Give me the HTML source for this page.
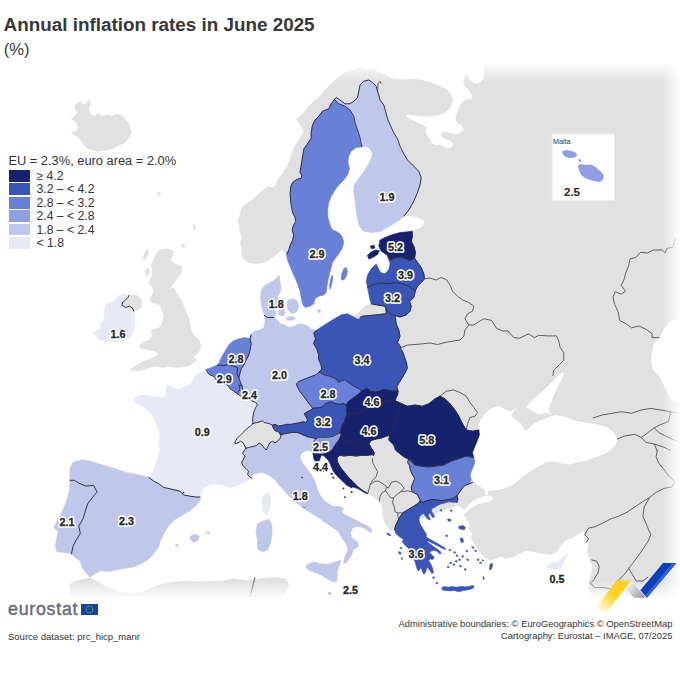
<!DOCTYPE html>
<html><head><meta charset="utf-8"><title>Annual inflation rates in June 2025</title>
<style>
html,body{margin:0;padding:0;background:#fff;}
body{width:680px;height:680px;position:relative;overflow:hidden;font-family:"Liberation Sans",sans-serif;color:#333;}
.t{position:absolute;white-space:nowrap;}
.sw{position:absolute;left:8.8px;width:21.3px;height:11.9px;}
</style></head><body>
<svg width="680" height="680" viewBox="0 0 680 680" style="position:absolute;left:0;top:0">
<defs><linearGradient id="ft" x1="0" y1="0" x2="0" y2="1"><stop offset="0" stop-color="#fff" stop-opacity="1"/><stop offset="1" stop-color="#fff" stop-opacity="0"/></linearGradient><linearGradient id="fb" x1="0" y1="1" x2="0" y2="0"><stop offset="0" stop-color="#fff" stop-opacity="1"/><stop offset="1" stop-color="#fff" stop-opacity="0"/></linearGradient><linearGradient id="fr" x1="1" y1="0" x2="0" y2="0"><stop offset="0" stop-color="#fff" stop-opacity="1"/><stop offset="1" stop-color="#fff" stop-opacity="0"/></linearGradient><clipPath id="mapclip"><rect x="0" y="63" width="680" height="537"/></clipPath></defs>
<g clip-path="url(#mapclip)">
<g fill="#e1e1e1" stroke="#e1e1e1" stroke-width="0.5" stroke-linejoin="round">
<path d="M392.4,78.9 L394.9,78.9 L402.9,79.8 L414.3,78.9 L424,80.6 L432.1,83 L440.2,86.2 L446.6,89.5 L450.7,94.3 L452.6,99.5 L451.8,104.4 L449.4,108.4 L445.3,112.4 L438.5,114.9 L430.5,116.2 L422.4,116.2 L414.3,115.2 L407.8,114.2 L405.4,115.2 L409.4,118.9 L415.9,122.2 L422.4,124.9 L426.4,127.3 L425.6,131.1 L426.4,135.1 L429.6,139.1 L432.1,143.2 L436.1,145.6 L440.2,144.8 L443.4,146.7 L447.4,148.4 L451.5,147.6 L453.4,144 L451,140.8 L446.6,139.1 L442.6,137.5 L441,134.3 L442.6,131.9 L446.6,132.3 L452.3,134.3 L458,134.3 L462,131.9 L463.6,128.6 L461.2,125.4 L458,123 L455.5,119.7 L456.3,114.9 L458,110 L460.4,105.2 L462.8,101.9 L466.1,99.8 L470.1,99 L472.8,98 L471.7,94.6 L470.1,91.4 L467.7,89 L465.6,86.6 L463.6,82.5 L464.4,77.7 L466.1,73.6 L467.7,75.2 L469.3,79.3 L472.5,82.5 L476.6,84.1 L480.6,82.8 L483.5,79.3 L484.7,74.4 L483.9,69.6 L484.7,61.5 L485,62 L684,62 L684,600 L591,600 L591.3,598.1 L591.3,594.2 L588.6,590.2 L589.4,582.3 L591.3,574.3 L592.6,566.4 L589.9,559.8 L587.3,551.9 L588.6,543.9 L584.1,537.3 L584.7,530.7 L579.4,533.3 L572.8,537.3 L566.1,539.9 L560.8,545.2 L556.9,551.9 L550.3,554.5 L542.3,553.2 L534.4,551.9 L526.5,550.5 L519.8,553.2 L513.2,557.1 L505.3,558.5 L500,555.8 L501.2,556.2 L495,558.8 L490,560 L485,557.5 L481.2,553.8 L477.5,548.8 L475,543.8 L471.2,538.8 L472.5,533.8 L468.8,528.8 L470,523.8 L466.2,518.8 L462.5,513.8 L464.5,508.8 L461.2,507.5 L457.5,505 L393.75,528.75 L391.8,531.5 L389.1,528.8 L386.5,525.3 L383.8,520 L382.9,514.7 L382.6,509.4 L382.1,504.1 L379.4,501.5 L376.8,499.7 L372.4,496.2 L367.9,493.2 L367.9,493.8 L365.4,492.1 L361.8,489.9 L358.8,487.6 L356.6,485.4 L353.7,482.5 L350.7,479.6 L347.8,476.6 L344.9,472.9 L341.9,469.3 L339.4,465.6 L337.5,461.9 L337.1,458.5 L337.5,457.5 L339.7,455.3 L344.1,456 L350,455.3 L355.9,456 L361.8,455.3 L367.6,455.3 L372.1,454.6 L373.5,455.3 L373.5,455.3 L374.3,453.1 L372.8,450.1 L370.6,447.2 L369.1,443.5 L371.5,440.2 L380,400 L370,340 L352.5,317 L357.5,313.8 L361.2,310 L365,306.2 L371.2,303.8 L385,290 L395,260 L400,240 L412,231.25 L418,229 L423,226 L424.5,221 L420,218 L412,216 L403.75,216.25 L395,200 L375,150 L365,100 L392.5,79Z"/>
<path d="M287.5,253.5 L284.4,252.5 L281.3,249.4 L279.3,251.5 L276.2,254.6 L272.1,257.7 L267.9,260.7 L261.8,262.8 L255.6,263.8 L249.4,262.8 L244.3,259.7 L241.2,254.6 L242.2,248.4 L240.1,243.2 L242.2,238.1 L240.1,232.9 L239.1,226.8 L238.1,220.6 L240.1,214.4 L241.2,209.3 L244.3,205.1 L249.4,202.1 L254.6,197.9 L259.7,192.8 L263.8,189.7 L267.9,186.6 L272.1,187.6 L276.2,185.6 L277.2,180.4 L280.3,176.3 L283.4,172.2 L286.5,168.1 L288.5,162.9 L290.6,157.8 L292.6,151.6 L294.7,146.5 L297.8,141.3 L300.9,136.2 L304,131 L300,125 L296.2,118.8 L302.5,113.8 L307.5,107.5 L312.5,102.5 L318.8,97.5 L323.8,91.2 L330,85 L335,80 L341.2,75 L347.5,71.2 L353.8,70 L360,67.5 L367.5,70 L372.5,68.8 L380,72.5 L387.5,76.2 L392.5,78.8 L385,95 L370,105 L345,112 L325,140 L312,200 L300,245Z"/>
<path d="M70,584 L77.5,580.6 L90.7,578 L95,580.6 L106,586.3 L119.4,592 L134.8,593.8 L145.9,590.7 L154.7,586.3 L167.9,582.8 L185.6,581 L203.2,581.9 L220.9,581 L234,578.8 L247.3,580.6 L260.6,578.8 L273.8,577.5 L284.8,578.8 L289.2,584 L287,590.7 L282.6,596.5 L282,602 L70,602Z"/>
<path d="M75,105 L80,101.2 L83.8,105 L86.2,103.8 L88.8,100 L90.5,102.5 L88.8,108.8 L90,113.8 L95,116.2 L98.8,112.5 L101.2,116.2 L107.5,115 L112.5,116.2 L117.5,113.8 L122.5,116.2 L125,120 L128.8,123.8 L131.2,131.2 L130,136.2 L125,142.5 L120,145 L112.5,148.8 L105,150.5 L97.5,151.2 L91.2,150 L86.2,147.5 L82.5,142.5 L78.8,137.5 L73.8,135 L71.2,132.5 L76.2,131.2 L78.8,127.5 L76.2,122.5 L71.2,118.8 L75,116.2 L77.5,112.5 L75,108.8Z"/>
<path d="M160,250 L167.5,248.8 L173.8,251.2 L172.5,256.2 L170,260 L175,263.8 L181.2,266.2 L182,271.2 L178.8,276.2 L175,281.2 L171.2,286.2 L175,290 L177.5,295 L181.2,300 L183.8,306.2 L186.2,312.5 L188.8,317.5 L190,323.8 L191.2,330 L193.8,335 L198.8,340 L201.2,345 L200,350 L197.5,353.8 L193.8,356.2 L196.2,360 L192.5,363.8 L187.5,366.2 L181.2,367 L175,367.5 L168.8,366.2 L162.5,367.5 L156.2,366.2 L150,367.5 L143.8,370 L136.2,371.2 L130,370 L135,366.2 L141.2,362.5 L147.5,360 L153.8,357.5 L158.8,353.8 L155,351.2 L148.8,350 L142.5,348.8 L138.8,346.2 L142.5,342.5 L148.8,340 L152.5,335 L151.2,330 L156.2,328.8 L161.2,326.2 L162.5,321.2 L163.8,315 L161.2,308.8 L160,305 L156.2,303.8 L151.2,302.5 L150,297.5 L153.8,292.5 L152.5,287.5 L148.8,282.5 L151.2,277.5 L152.5,271.2 L151.2,265 L153.8,258.8 L156.2,253.8Z"/>
<path d="M145,251.2 L148.8,249.5 L148,255 L145,260 L142.5,258.8Z"/>
<path d="M145,270 L148.8,267.5 L149.5,273.8 L146.2,276.2Z"/>
<path d="M128.8,295.5 L128,297.5 L125.5,300 L122.5,302.5 L122,305 L125.5,307.5 L129.5,306.2 L132.5,308 L133.8,311.2 L137,310.5 L140.5,308 L142,303.8 L140.5,298.8 L137.5,295.5 L132.5,294.5 L128.8,295.5Z"/>
<path d="M157.5,192 L160,192.5 L160.5,195 L158,195.5Z M193,224.5 L195,224 L195.5,229.5 L193.5,230Z M181.5,244.5 L184.5,244 L185,247 L182,247.5Z"/>
</g>
<g fill="#fff">
<path d="M480,431.2 L477.5,427.5 L480,421.2 L483.8,415 L488.8,410 L495,407 L500,406.2 L503.8,408.8 L508.8,411.2 L513.8,410 L518,407.5 L525.5,407 L530,402.5 L535,397.5 L541.2,392.5 L547.5,386.2 L553.8,380 L558.8,375 L562.5,372 L564,373.5 L563,376.2 L560,382.5 L556.2,390 L553,397.5 L550,405 L548.8,410 L550.5,414.5 L551.2,416.2 L556.2,415 L562.5,416.2 L570,418.8 L577.5,421.2 L585,422.5 L592.5,423.8 L600,425 L607.5,427.5 L612.5,431.2 L616.2,436.2 L617,441.2 L614.5,446.2 L610,450 L605,453.8 L598.8,456.2 L591.2,458.8 L583.8,461.2 L576.2,462.5 L570,464.5 L563.8,463.8 L557.5,462.5 L551.2,461.2 L545,463 L538.8,466.2 L532.5,470 L526.2,473.8 L521.2,477.5 L516.2,482.5 L510,486.2 L503.8,488.8 L497.5,490 L491.2,490.8 L488,490.5 L488,495 L485.5,495 L485,490 L481.2,487.5 L476.2,483.8 L472.5,480 L470,475 L472.5,468.8 L473.8,462.5 L472.5,456.2 L473.8,450 L476.2,443.8 L478.8,437.5Z"/>
<path d="M475,500 L480,497.5 L485,495.8 L490,495.8 L493.8,498 L490,501.2 L485,502.5 L478.8,503.8 L473.8,506.2 L468.8,510 L465,513.8 L462,515.5 L463,512 L467.5,506.2 L471.2,502.5Z"/>
<path d="M659.4,337.6 L663.8,329.4 L669.7,322.1 L682.9,317.1 L682.9,402.9 L671.2,400 L668.2,394.1 L663.8,385.3 L659.4,376.5 L653.5,370.6 L650.6,361.8 L652.1,352.9 L653.5,344.1Z"/>
</g>
<path d="M518,407 L513.8,411.2 L511.2,416.2 L516.2,420 L521.2,423.8 L523.8,428.8 L526.2,431.2 L530,427.5 L533.8,423.8 L538.8,421.2 L545,418.8 L551.2,416.5 L550,413.8 L545,413 L540,414.5 L535,412.5 L531.2,410 L527.5,408 L525.5,406.5Z" fill="#e1e1e1"/>
<path d="M245.9,448.2 L245,446.5 L243.2,442.9 L240.6,441.2 L237.9,442.9 L234.9,443.8 L235.3,441.2 L237.1,438.5 L239.7,435.9 L242.4,433.2 L245,430.6 L247.6,427.9 L250.3,426.2 L252.9,423.5 L256.5,422.6 L260,421.8 L262.6,420.9 L264.4,422.6 L267.9,423.2 L270.9,424.4 L272.4,425.3 L273.2,427.9 L275,430.6 L277.6,431.5 L279.9,432.9 L281.2,435.9 L279.9,438.5 L277.6,441.2 L275,442.9 L272.4,441.2 L269.7,442.9 L267.9,446.5 L266.2,450 L264.4,448.2 L261.8,444.7 L259.1,442.9 L256.5,445.6 L252.9,446.5 L249.4,447.3 L245.9,448.2Z" fill="#e1e1e1"/>
<path d="M371.2,303.8 L365,306.2 L361.2,310 L357.5,313.8 L352.5,317 L362.5,316.2 L375,315 L386.2,313.8 L386.2,310 L385,306.2 L377.5,305Z" fill="#e1e1e1"/>
<g fill="none" stroke="#585858" stroke-width="0.95" stroke-linejoin="round">
<path d="M424.5,278.8 L430,278 L436.2,280 L441.2,277.5 L446.2,279.5 L450,285 L452.5,291.2 L457.5,296.2 L462.5,300 L468.8,302.5 L473.8,306.2 L472.5,311.2 L467.5,313.8 L465,318.8 L468.8,325"/>
<path d="M401.2,347.5 L407.5,345 L415,344.5 L422.5,343.8 L430,343 L437.5,344.5 L445,342.5 L452.5,341.2 L460,340 L463.8,336.2 L465,330 L468.8,325"/>
<path d="M468.8,325 L473.8,325 L477.5,322.5 L483.8,318.8 L490,320 L491.8,320.6 L496.2,327.9 L502.1,330.9 L507.9,330.9 L513.8,337.6 L519.7,338.2 L528.5,333.8 L534.4,337.6 L538.8,335.3 L547.6,335.9 L556.5,335.9 L558.8,341.2 L560,347.1 L563.8,352.9 L563.8,360.3 L559.4,364.7 L553.5,370.6 L552.9,375.9"/>
<path d="M675.6,238.2 L672.6,247.1 L666.8,248.5 L665.3,252.9 L662.4,250 L653.5,250 L647.6,252.9 L640.3,252.4 L635.9,257.4 L630,258.8 L628.5,266.2 L625.6,273.5 L624.1,279.4 L621.2,285.3 L625.6,291.2 L621.2,294.1 L615.3,291.8 L612.9,297.1 L614.7,304.4 L618.2,311.8 L619.7,320.6 L625.6,323.5 L631.5,327.9 L638.8,325.9 L646.2,329.4 L652.1,333.8 L652.1,337.6 L659.4,337.6"/>
<path d="M440,396.2 L446.2,391.2 L453.8,390 L460,392.5 L466.2,396.2 L470,402.5 L473.8,407.5 L477.5,412.5 L475,416.2 L470,417.5 L467.5,423.8 L466.2,430"/>
<path d="M592.7,418.1 L602.4,414.9 L612.1,413.3 L621.8,411.7 L631.5,413.3 L641.2,410 L650.9,408.4 L660.6,410 L670.4,411.7 L680.1,413.3"/>
<path d="M617,439.2 L625,435.9 L634.8,434.3 L641.2,437.5 L646.1,442.4 L654.2,444 L663.9,447.2 L670.4,450.5"/>
<path d="M641.2,437.5 L647.7,432.7 L654.2,427.8 L660.6,424.6 L668.7,421.4 L670.4,411.7"/>
<path d="M654.2,444 L657.4,451.5"/>
<path d="M654.2,427.8 L659,432.7 L665.5,435.9 L672,439.2 L680.1,442.4"/>
<path d="M588.6,528 L595.2,526.7 L603.2,522.8 L611.1,518.8 L619,516.1 L627,512.2 L634.9,506.9 L642.9,501.6 L649.5,497.6 L656.1,492.3 L664,488.4 L672,487 L674.6,481.7 L669.3,476.5 L665.3,471.2 L658.7,463.2 L656.1,456.6 L657.4,450"/>
<path d="M649.5,497.6 L644.2,506.9 L642.9,516.1 L646.8,525.4 L650.8,534.7 L648.1,541.3 L640.2,553.2 L632.3,563.8 L624.3,574.3 L616.4,582.3"/>
<path d="M628.3,567.7 L632.3,574.3 L636.2,581 L642.9,581 L648.1,577"/>
<path d="M591.3,559.8 L596.6,561.1 L599.2,566.4 L597.9,573 L593.9,579.6 L591.3,582.3"/>
<path d="M589.4,582.3 L595.2,587.6 L603.2,587.6 L611.1,588.9 L616.4,582.3"/>
<path d="M588.6,528 L584.7,534.7 L588.6,538.6 L586,542.6"/>
<path d="M372.4,458.2 L372.7,462.6 L375,467.1 L377.6,471.5 L376.2,476.8 L372.4,480.3 L370.2,484.7"/>
<path d="M370.2,484.7 L368.8,490 L367.9,493.2"/>
<path d="M370.2,484.7 L375,481.2 L378.5,481.2 L382.9,483.8 L386.5,486.5"/>
<path d="M386.5,486.5 L385.6,490.9 L382.1,492.6 L380.3,496.2 L379.4,499.7 L379.4,501.5"/>
<path d="M386.5,486.5 L388.2,488.2 L391.8,482.1 L396.2,481.2 L400.6,483.8 L404.1,488.2 L400.6,491.8 L397.1,494.4 L393.5,497.9 L390.9,497.9 L388.2,494.4 L385.6,490.9"/>
<path d="M400.6,491.8 L407.6,490.9 L412.1,491.8"/>
<path d="M393.5,497.9 L392.6,502.3 L394.4,507.6 L395.3,512.1"/>
<path d="M394.7,529.8 L396.2,524.4 L398.8,520 L397.9,516.5 L397.9,512.9 L395.3,512.1"/>
<path d="M397.9,512.9 L402.3,512.9 L408.5,511.2 L413.8,508.5 L418.2,505 L420,502.3"/>
<path d="M255,577 L253,585 L250,597"/>
<path d="M377.5,91.2 L378,83.8 L380,81.2 L381.2,83.8"/>
</g>
<rect x="0" y="62" width="680" height="20" fill="url(#ft)"/>
<rect x="0" y="581" width="680" height="18.5" fill="url(#fb)"/>
<rect x="662" y="60" width="18" height="540" fill="url(#fr)"/>
<path d="M334.5,99.5 L338.8,103.8 L345,106.2 L350,110 L353.8,116.2 L355,122.5 L357.5,130 L360,137.5 L361.2,143.8 L362,146.8 L356.2,147.5 L351.2,151.2 L348.8,156.2 L348,162.5 L349.5,168.8 L347.5,175 L343.8,180 L338.8,185 L335,190 L331.2,196.2 L328.8,202.5 L327.5,210 L328,217.5 L330,225 L332.5,230 L336.2,231.2 L340,233.8 L342.5,237.5 L343.8,242.5 L342,248.8 L338.8,253.8 L335,258.8 L332.5,262.5 L331.2,267.5 L329.5,273.8 L328,280 L327,286.2 L326.2,292.5 L323.8,295 L318.8,296.2 L315,298.8 L313.8,303.8 L310,306.2 L305,307.5 L302.5,303.8 L301.2,297.5 L300,291.2 L298,285 L295.5,278.8 L292.5,272.5 L290,266.2 L287.5,260 L286.2,253.8 L287.5,251.2 L287.5,253.5 L288.9,249.4 L290.6,244.3 L292.6,240.2 L293.7,235 L292.2,229.9 L293.7,224.7 L295.7,221.6 L295.1,217.5 L292.6,212.4 L291.6,207.2 L290.6,201 L290.2,193.8 L290.6,187.6 L292.6,182.5 L296.8,179.4 L300.9,178.4 L301.9,175.3 L299.9,172.2 L300.9,167.1 L301.9,160.9 L302.9,154.7 L304,148.5 L307.1,144.4 L311.2,138.2 L311.2,132.5 L312.5,125 L315,120 L318.8,116.2 L322.5,111.2 L328.8,108.8 L331.2,103.8 L334.5,99.5ZM332,275 L333,277.5 L331.5,285 L330,289.5 L329.5,286.2 L330.5,280ZM343.8,268.8 L346.2,267.5 L347.5,271.2 L346.2,276.2 L343.8,280 L341.2,279.5 L341.8,273.8Z" fill="#6980d8" stroke="#6980d8" stroke-width="0.6" stroke-linejoin="round"/>
<path d="M334.5,99.5 L336.2,97.5 L340,100 L345,103.8 L350,103.8 L353.8,101.2 L357.5,97.5 L358.8,91.2 L360,85 L363.8,81.2 L368.8,80 L372.5,82.5 L376.2,86.2 L377.5,91.2 L378.8,95 L380,100 L383.8,105 L385.5,111.2 L387.5,118.8 L390.8,126.2 L393.5,132.5 L397.5,138.8 L400,146.2 L403.8,153.8 L407.5,160 L412.5,165 L418.8,171.2 L421.2,177.5 L420,185 L417.5,192.5 L413.8,201.2 L408.8,210 L403.8,216.2 L403.75,216.25 L398.2,220.9 L389.4,226.2 L380.6,231.5 L371.8,232.6 L362.9,230.9 L359.4,226.2 L357.3,218.2 L356.2,209.4 L355,200.6 L353.8,192.5 L353.8,186.2 L357.5,180 L361.2,175 L365,170 L368.8,163.8 L371.2,158.8 L372.5,153.8 L370,148.8 L366.2,146.2 L362,146.8 L361.2,143.8 L360,137.5 L357.5,130 L355,122.5 L353.8,116.2 L350,110 L345,106.2 L338.8,103.8 L334.5,99.5Z" fill="#bfc8ea" stroke="#bfc8ea" stroke-width="0.6" stroke-linejoin="round"/>
<path d="M128.8,295.5 L128,297.5 L125.5,300 L122.5,302.5 L122,305 L125.5,307.5 L129.5,306.2 L132.5,308 L133.8,311.2 L134.5,315 L135,320 L134.5,325 L133.8,330 L132,335 L128.8,338.8 L123.8,340 L118.8,341.2 L112.5,342 L106.2,341.2 L100,340 L95,336.2 L93.8,332.5 L97.5,330 L101.2,328.8 L100,325 L102.5,321.2 L105,317.5 L103.8,313.8 L105,308.8 L106.2,303.8 L110,302 L113.8,301.2 L116.2,298.8 L118.8,295.5 L122.5,293.8 L126.2,294.5 L128.8,295.5Z" fill="#e7eaf6" stroke="#e7eaf6" stroke-width="0.6" stroke-linejoin="round"/>
<path d="M278.8,275 L276.2,278.8 L272.5,281.2 L267.5,283.8 L263.8,286.2 L261.2,291.2 L260.5,297.5 L261.2,303.8 L262.5,310 L264.5,315.5 L267.5,317.5 L273.8,317.5 L276.2,313.8 L275,310 L277.5,306.2 L278.8,301.2 L277.5,296.2 L280,292.5 L281.2,287.5 L280,282.5 L279.5,277.5ZM278.8,310 L283.8,308.8 L285.5,312.5 L283,316.2 L279,315ZM288,300 L293.8,298.8 L297.5,301.2 L298.8,306.2 L297,311.2 L293.8,313.8 L290,312.5 L287.5,308.8 L287,303.8ZM286.2,317.5 L292.5,316.2 L295.5,318.8 L291.2,320.5 L287,320ZM317.5,310 L320,309.5 L320.5,312 L318,312.5Z" fill="#bfc8ea" stroke="#bfc8ea" stroke-width="0.6" stroke-linejoin="round"/>
<path d="M251.2,335 L253.8,331.2 L260,330 L263.8,327.5 L265,322.5 L264.5,315.5 L267.5,317.5 L273.8,317.5 L277.5,320 L280,323.8 L285,325 L288.8,327.5 L293.8,326.2 L300,323.8 L306.2,325 L311.2,328.8 L315.9,330.6 L313.8,332.9 L315.6,338.8 L313.6,343.5 L316.8,348.8 L318.6,354.7 L318.4,358.8 L320.9,364.4 L321.8,369.1 L319.1,372.1 L316.5,374.4 L312.1,376.2 L307.6,377.9 L303.2,379.7 L298.8,381.5 L296.2,384.1 L297.9,387.6 L299.7,391.2 L302.4,394.7 L305,398.2 L307.6,401.8 L310.3,405.3 L312.9,408.5 L310.3,410.3 L306.8,412.1 L304.1,413.8 L305.9,416.5 L307.6,420 L305.9,422.6 L303.2,421.8 L299.7,422.6 L295.3,423.5 L290.9,424.4 L286.5,424.4 L282.9,425.3 L278.5,426.2 L275,424.4 L272.4,425.3 L270.9,424.4 L267.9,423.2 L264.4,422.6 L262.6,420.9 L260,421.8 L256.5,422.6 L252.9,423.5 L252.6,420 L252.9,416.5 L253.8,412.1 L255.6,407.6 L257.4,405 L255.6,402.4 L252.1,400.9 L248.5,399.7 L245,397.9 L242.7,397.1 L242.5,397 L243,390 L242,386.2 L240,381.2 L238.8,377.5 L240,373 L241.2,368.8 L243.8,365 L246.2,360 L248.8,355 L250,350 L251.2,343.8 L250,338.8 L251.2,335Z" fill="#bfc8ea" stroke="#bfc8ea" stroke-width="0.6" stroke-linejoin="round"/>
<path d="M250,338.8 L245,337.5 L238.8,338.8 L232.5,341.2 L228.8,345 L225,351.2 L221.2,357.5 L218.8,363.8 L217.5,365 L223.8,365.5 L228.8,364.5 L233.8,366.2 L237.5,368 L237,372.5 L237,373.8 L238.8,377.5 L240,373 L241.2,368.8 L243.8,365 L246.2,360 L248.8,355 L250,350 L251.2,343.8 L250,338.8 L251.2,335Z" fill="#6980d8" stroke="#6980d8" stroke-width="0.6" stroke-linejoin="round"/>
<path d="M206.2,369.5 L211.2,367.5 L217.5,365 L223.8,365.5 L228.8,364.5 L233.8,366.2 L237.5,368 L237,372.5 L237,373.8 L238.8,377.5 L240,381.2 L242,386.2 L238.8,385 L240,388.8 L237.5,393.8 L233.8,391.2 L230,388.8 L227.5,385 L223.8,383.8 L220,381.2 L216.2,380 L213.8,376.2 L210,375 L207.5,372.5 L206.2,370Z" fill="#6980d8" stroke="#6980d8" stroke-width="0.6" stroke-linejoin="round"/>
<path d="M237.5,393.8 L240,388.8 L238.8,385 L242,386.2 L243,390 L242.5,397 L240,395.5 L237.5,393.8Z" fill="#8f9fe0" stroke="#8f9fe0" stroke-width="0.6" stroke-linejoin="round"/>
<path d="M206.2,370 L200,372.5 L196.2,375 L192.5,381.2 L188.8,385 L183.8,387.5 L178.8,389.5 L175,388.8 L171.2,386.2 L167.5,385 L165.5,388.8 L166.2,393.8 L163.8,397.5 L158.8,397 L152.5,396.2 L146.2,395 L140,395.5 L135,397.5 L133.8,401.2 L137.5,403.8 L142.5,406.2 L147.5,410 L151.2,413.8 L153.8,418.8 L156.2,423.8 L158.8,430 L160,436.2 L158.8,442.5 L160,448.8 L158.8,455 L156.2,462.5 L153.8,470 L151.2,475 L148.8,477.5 L153.8,481.2 L158.8,483.8 L163.8,487.5 L170,488.8 L175,490 L180,491.2 L183.8,495 L190,496.2 L196.2,497 L200,497 L201.2,491.2 L203.8,487.5 L208.8,485 L215,483.8 L221.2,484.5 L226.2,486.2 L231.2,487.5 L236.2,486.2 L241.2,483.8 L246.2,481.2 L252.1,478.2 L250.3,477.3 L247.6,474.7 L248.5,471.2 L245.9,468.5 L243.2,465.9 L241.5,462.3 L243.2,459.7 L245,456.2 L242.4,453.5 L244.1,450.9 L245.9,448.2 L245,446.5 L243.2,442.9 L240.6,441.2 L237.9,442.9 L234.9,443.8 L235.3,441.2 L237.1,438.5 L239.7,435.9 L242.4,433.2 L245,430.6 L247.6,427.9 L250.3,426.2 L252.9,423.5 L252.6,420 L252.9,416.5 L253.8,412.1 L255.6,407.6 L257.4,405 L255.6,402.4 L252.1,400.9 L248.5,399.7 L245,397.9 L242.7,397.1 L242.5,397 L240,395.5 L237.5,393.8 L233.8,391.2 L230,388.8 L227.5,385 L223.8,383.8 L220,381.2 L216.2,380 L213.8,376.2 L210,375 L207.5,372.5 L206.2,370ZM266.2,492.9 L269.1,492.4 L270.6,498.8 L270,507.6 L267.1,515 L263.2,512.1 L261.8,504.7 L262.4,497.4Z" fill="#e7eaf6" stroke="#e7eaf6" stroke-width="0.6" stroke-linejoin="round"/>
<path d="M70,480.3 L70,468.5 L72.9,462.6 L81.8,459.7 L90.6,461.2 L99.4,464.1 L108.2,466.5 L117.1,469.4 L125.9,472.4 L137.6,474.4 L149.4,477.4 L148.8,477.5 L153.8,481.2 L158.8,483.8 L163.8,487.5 L170,488.8 L175,490 L180,491.2 L183.8,495 L190,496.2 L196.2,497 L200,497 L199.4,495.9 L200.9,499.4 L196.5,505.3 L189.1,511.2 L181.8,515.6 L174.4,520 L168.5,525.9 L164.1,533.2 L160.6,540.6 L158.2,547.9 L153.8,553.8 L147.9,559.7 L140.6,564.1 L133.2,567.1 L124.4,568.5 L115.6,570 L108.2,571.5 L100.9,570.6 L93.5,574.4 L90.6,577.4 L86.2,572.9 L81.8,567.1 L80.3,561.2 L75.9,558.2 L71.5,553.8 L72.9,546.5 L75.9,540.6 L80.3,533.2 L78.8,525.9 L83.2,518.5 L85.3,511.2 L87.6,503.8 L92.1,497.9 L97.1,492.1 L93.5,485.3 L86.2,486.2 L78.8,483.2 L74.4,480.3 L70,480.3ZM190.6,536.2 L195,534.1 L199.4,536.2 L197.9,540.6 L193.5,542.1 L190,539.1ZM175,545 L178.2,544.1 L177.6,547.1ZM205.9,532.4 L209.7,531.8 L208.8,534.1Z" fill="#bfc8ea" stroke="#bfc8ea" stroke-width="0.6" stroke-linejoin="round"/>
<path d="M71.5,553.8 L64.1,552.4 L56.8,551.8 L55.3,545 L56.8,537.6 L58.2,531.8 L53.8,527.4 L56.8,521.5 L61.2,514.1 L64.1,506.8 L67.1,499.4 L69.4,490.6 L70,480.3 L74.4,480.3 L78.8,483.2 L86.2,486.2 L93.5,485.3 L97.1,492.1 L92.1,497.9 L87.6,503.8 L85.3,511.2 L83.2,518.5 L78.8,525.9 L80.3,533.2 L75.9,540.6 L72.9,546.5 L71.5,553.8Z" fill="#bfc8ea" stroke="#bfc8ea" stroke-width="0.6" stroke-linejoin="round"/>
<path d="M252.1,478.2 L250.3,477.3 L247.6,474.7 L248.5,471.2 L245.9,468.5 L243.2,465.9 L241.5,462.3 L243.2,459.7 L245,456.2 L242.4,453.5 L244.1,450.9 L245.9,448.2 L249.4,447.3 L252.9,446.5 L256.5,445.6 L259.1,442.9 L261.8,444.7 L264.4,448.2 L266.2,450 L267.9,446.5 L269.7,442.9 L272.4,441.2 L275,442.9 L277.6,441.2 L279.9,438.5 L281.2,435.9 L279.9,432.9 L280.3,435 L282.9,434.1 L287.3,433.2 L291.8,432.4 L296.2,432.4 L299.7,433.2 L303.2,435 L307.6,436.8 L312.1,437.6 L316.1,438.5 L313.8,441.2 L314.3,443.8 L312.9,447.3 L313.8,450.9 L313.2,454.1 L313.2,451.8 L307.4,450.3 L301.5,453.2 L300,457.6 L302.9,463.5 L307.4,469.4 L311.8,475.3 L314.4,480 L316.2,485.3 L317.9,490.6 L320.6,495.9 L324.1,500.3 L328.5,503.8 L333.8,506.5 L340,506.5 L343.5,508.2 L341.8,511.8 L344.4,514.4 L349.7,517.1 L355,519.7 L360.3,522.4 L365.6,525 L370,527.6 L372.1,530.3 L371.4,532.6 L368.2,531.2 L364.7,528.5 L360.3,526.8 L355.9,526.2 L352.3,528.5 L350.6,532.9 L351.5,537.3 L354.1,540 L357.6,541.8 L358.5,546.2 L355.9,547.9 L353.2,550.6 L351.5,555 L348.8,559.4 L346.2,562.9 L343.5,562.9 L344.4,558.5 L346.2,554.1 L347.9,550.6 L347.1,546.2 L345.3,542.6 L342.6,539.1 L340,534.7 L338.2,531.2 L333.8,528.5 L329.4,525 L325,522.4 L321.5,519.7 L317.9,517.1 L313.5,514.4 L309.1,511.8 L304.7,509.1 L300.3,505.6 L295.9,502.1 L291.5,498.5 L287.1,494.1 L283.5,489.7 L280,486.2 L279.4,485.6 L275,479.7 L269.1,475.3 L261.8,472.4 L254.4,473.8 L248.5,476.8ZM305.6,566.5 L309.1,563.8 L314.4,562.1 L319.7,563.8 L325.9,564.3 L332.1,562.9 L337.3,561.2 L340.9,560.3 L340,564.7 L337.3,570 L337.3,576.2 L336.5,581.5 L332.9,582 L328.5,579.7 L323.2,576.2 L317.9,573.5 L312.6,571.8 L308.2,570ZM257.4,523.8 L263.2,520.9 L269.1,519.4 L272.1,525.3 L272.1,534.1 L270.6,542.9 L267.6,550.3 L261.8,551.8 L257.4,548.8 L257.4,540 L255.9,531.2Z" fill="#bfc8ea" stroke="#bfc8ea" stroke-width="0.6" stroke-linejoin="round"/>
<path d="M315.9,330.6 L321.2,327.1 L328.2,322.6 L335.3,318.2 L341.5,314.7 L347.6,313.8 L352.9,316.5 L357.3,319.1 L360,318.8 L360,317.5 L362.5,316.2 L375,315 L386.2,313.8 L386.2,310 L390,313.8 L395,315.5 L396.2,323.8 L398.8,330 L400,336.2 L397.5,342.5 L401.2,347.5 L400.3,347.9 L402.9,352.4 L404.7,357.6 L406.5,362.9 L407.3,368.2 L404.7,373.5 L402.1,377.9 L399.4,382.4 L396.8,386.8 L398,391.2 L392.3,391.2 L387.9,390.3 L383.5,389.4 L379.1,391.2 L374.7,392.1 L370.3,391.2 L367.6,388.5 L365,389.4 L361.5,391.2 L358.8,388.5 L355.3,386.8 L351.8,385 L348.2,382.4 L344.7,379.7 L342.1,380.6 L338.5,382.4 L336.8,379.7 L334.1,377.9 L329.7,376.2 L325.3,375.3 L321.8,373.5 L319.1,372.1 L321.8,369.1 L320.9,364.4 L318.4,358.8 L318.6,354.7 L316.8,348.8 L313.6,343.5 L315.6,338.8 L313.8,332.9 L315.9,330.6Z" fill="#3a55b5" stroke="#3a55b5" stroke-width="0.6" stroke-linejoin="round"/>
<path d="M319.1,372.1 L321.8,373.5 L325.3,375.3 L329.7,376.2 L334.1,377.9 L336.8,379.7 L338.5,382.4 L342.1,380.6 L344.7,379.7 L348.2,382.4 L351.8,385 L355.3,386.8 L358.8,388.5 L361.5,391.2 L358.8,393.8 L355.3,396.5 L351.8,399.1 L348.2,401.8 L346.1,404.9 L342.9,403.5 L339.4,404.4 L335,403.5 L331.5,401.8 L327.9,402.6 L324.4,404.4 L321.8,407.1 L318.2,407.9 L314.7,407.9 L312.9,408.5 L310.3,405.3 L307.6,401.8 L305,398.2 L302.4,394.7 L299.7,391.2 L297.9,387.6 L296.2,384.1 L298.8,381.5 L303.2,379.7 L307.6,377.9 L312.1,376.2 L316.5,374.4 L319.1,372.1Z" fill="#6980d8" stroke="#6980d8" stroke-width="0.6" stroke-linejoin="round"/>
<path d="M272.4,425.3 L275,424.4 L278.5,426.2 L282.9,425.3 L286.5,424.4 L290.9,424.4 L295.3,423.5 L299.7,422.6 L303.2,421.8 L305.9,422.6 L307.6,420 L305.9,416.5 L304.1,413.8 L306.8,412.1 L310.3,410.3 L312.9,408.5 L314.7,407.9 L318.2,407.9 L321.8,407.1 L324.4,404.4 L327.9,402.6 L331.5,401.8 L335,403.5 L339.4,404.4 L342.9,403.5 L346.1,404.9 L346.8,407.9 L346.5,410.6 L347.3,414.1 L345.6,417.6 L344.7,421.2 L342.6,424.7 L341.2,428.2 L340.3,431.8 L339.9,432.6 L336.8,434.4 L333.2,436.2 L328.8,437.1 L324.4,437.4 L320,437.1 L316.1,438.3 L316.1,438.5 L312.1,437.6 L307.6,436.8 L303.2,435 L299.7,433.2 L296.2,432.4 L291.8,432.4 L287.3,433.2 L282.9,434.1 L280.3,435 L279.9,432.9 L277.6,431.5 L275,430.6 L273.2,427.9 L272.4,425.3Z" fill="#3a55b5" stroke="#3a55b5" stroke-width="0.6" stroke-linejoin="round"/>
<path d="M398,391.2 L392.3,391.2 L387.9,390.3 L383.5,389.4 L379.1,391.2 L374.7,392.1 L370.3,391.2 L367.6,388.5 L365,389.4 L361.5,391.2 L358.8,393.8 L355.3,396.5 L351.8,399.1 L348.2,401.8 L346.1,404.9 L346.8,407.9 L346.5,410.6 L349.1,413.2 L351.8,414.3 L356.2,413.4 L360.6,411.5 L365,409.7 L369.4,407.9 L373.8,406.2 L378.2,403.5 L382.6,402.6 L387.1,400.9 L391.5,400 L395.3,400.9 L395.9,398.2 L397.6,394.7 L398,391.2Z" fill="#17226e" stroke="#17226e" stroke-width="0.6" stroke-linejoin="round"/>
<path d="M346.5,410.6 L349.1,413.2 L351.8,414.3 L356.2,413.4 L360.6,411.5 L365,409.7 L369.4,407.9 L373.8,406.2 L378.2,403.5 L382.6,402.6 L387.1,400.9 L391.5,400 L395.3,400.9 L399.4,402.6 L402.9,404.4 L400.3,406.2 L398.5,410.6 L396.8,415.9 L395,421.2 L393.2,426.5 L391.5,430.9 L389.7,435.3 L386.2,436.2 L381.8,437.9 L377.3,438.8 L371.5,440.2 L370.3,441.5 L365.9,443.2 L359.7,445 L353.5,444.1 L348.2,441.5 L343.8,437.9 L341.2,435.3 L339.9,432.6 L340.3,431.8 L341.2,428.2 L342.6,424.7 L344.7,421.2 L345.6,417.6 L347.3,414.1 L346.5,410.6Z" fill="#17226e" stroke="#17226e" stroke-width="0.6" stroke-linejoin="round"/>
<path d="M339.9,432.6 L336.8,434.4 L333.2,436.2 L328.8,437.1 L324.4,437.4 L320,437.1 L316.1,438.3 L316.1,438.5 L313.8,441.2 L314.3,443.8 L312.9,447.3 L313.8,450.9 L313.2,454.1 L317.6,454.1 L322.1,454.6 L326.5,453.1 L330.1,451.6 L333.1,448.7 L334.6,445.7 L336.8,442.8 L339,439.9 L341.2,435.3 L339.9,432.6Z" fill="#8f9fe0" stroke="#8f9fe0" stroke-width="0.6" stroke-linejoin="round"/>
<path d="M313.2,454.1 L317.6,454.1 L322.1,454.6 L326.5,453.1 L330.1,451.6 L333.1,448.7 L334.6,445.7 L336.8,442.8 L339,439.9 L341.2,435.3 L343.8,437.9 L348.2,441.5 L353.5,444.1 L359.7,445 L365.9,443.2 L370.3,441.5 L371.5,440.2 L369.1,443.5 L370.6,447.2 L372.8,450.1 L374.3,453.1 L373.5,455.3 L372.1,454.6 L367.6,455.3 L361.8,455.3 L355.9,456 L350,455.3 L344.1,456 L339.7,455.3 L337.5,457.5 L337.1,458.5 L337.5,461.9 L339.4,465.6 L341.9,469.3 L344.9,472.9 L347.8,476.6 L350.7,479.6 L353.7,482.5 L356.6,485.4 L358.8,487.6 L361.8,489.9 L365.4,492.1 L367.9,493.8 L364.7,492.8 L361.8,491 L358.1,488.8 L354.4,487.4 L350.7,486.5 L347.1,485 L344.1,482.8 L341.2,479.9 L338.2,476.9 L335.3,474 L333.1,471 L331.6,467.4 L330.1,463.7 L327.9,460 L325,457.1 L323.5,455.6 L321.3,455.3 L320.3,457.9 L319.1,460.9 L316.9,462.2 L314.7,460.7 L313.5,457.8 L313.2,454.1ZM345.8,483.5 L347.8,483.5 L348,485.1 L346,485.1ZM348.1,484.72 L350.3,484.72 L350.52,486.48 L348.32,486.48ZM350.2,486.36 L351.8,486.36 L351.96,487.64 L350.36,487.64ZM342.8,487.92 L344,487.92 L344.12,488.88 L342.92,488.88ZM350.8,491.44 L352.2,491.44 L352.34,492.56 L350.94,492.56ZM344.3,496.72 L345.5,496.72 L345.62,497.68 L344.42,497.68ZM320.5,467.86 L322.1,467.86 L322.26,469.14 L320.66,469.14ZM322.9,470.26 L324.5,470.26 L324.66,471.54 L323.06,471.54ZM330.9,473.34 L332.3,473.34 L332.44,474.46 L331.04,474.46ZM332.5,477.04 L333.9,477.04 L334.04,478.16 L332.64,478.16Z" fill="#17226e" stroke="#17226e" stroke-width="0.6" stroke-linejoin="round"/>
<path d="M402.9,404.4 L407.5,406.2 L415,405 L422.5,406.2 L428.8,403.8 L435,398.8 L440,396.2 L445,398.8 L450,403.8 L455,410 L458.8,416.2 L462.5,423.8 L466.2,430 L472.5,431.2 L478.8,430 L479.5,435 L477.5,440 L475,446.2 L472.5,452.5 L473.8,457.5 L466.2,456.2 L458.8,458.8 L451.2,461.2 L443.8,465 L436.2,466.2 L428.8,467 L421.2,466.2 L415,465 L411.2,460 L405,457.5 L400,453.8 L395.5,450 L393.8,445 L388.8,440 L389.7,435.3 L391.5,430.9 L393.2,426.5 L395,421.2 L396.8,415.9 L398.5,410.6 L400.3,406.2 L402.9,404.4Z" fill="#17226e" stroke="#17226e" stroke-width="0.6" stroke-linejoin="round"/>
<path d="M415,465 L421.2,466.2 L428.8,467 L436.2,466.2 L443.8,465 L451.2,461.2 L458.8,458.8 L466.2,456.2 L473.8,457.5 L475,462.5 L472.5,468.8 L470,475 L471.2,480 L467.5,485 L472.5,482.5 L468.8,483.8 L463.8,486.2 L457,495.8 L454.6,497.4 L451.3,499 L446.5,499.9 L441.6,500.7 L436.8,499.9 L431.9,499.5 L427.1,500.7 L423,502.3 L419.8,501.5 L420,502.3 L420,499.7 L417.3,494.4 L412.1,491.8 L411.2,487.3 L412.9,482.9 L414.7,478.5 L412.1,474.1 L410.3,469.7 L409.4,465.3 L407.6,462.6 L408.5,459.1 L415,465Z" fill="#6980d8" stroke="#6980d8" stroke-width="0.6" stroke-linejoin="round"/>
<path d="M394.7,529.8 L395.5,525.7 L397.9,520.9 L400.4,516 L402.8,512.8 L406.8,510.4 L410.9,507.9 L414.9,505.5 L418.2,503.1 L419.8,501.5 L423,502.3 L427.1,500.7 L431.9,499.5 L436.8,499.9 L441.6,500.7 L446.5,499.9 L451.3,499 L454.6,497.4 L457,495.8 L457.8,498.2 L457.5,500.7 L457,502.3 L453,502.3 L448.9,501.8 L444.9,503.1 L440.8,503.9 L437.6,505.5 L435.2,507.1 L432.7,508.3 L431.4,509.9 L432.2,512.5 L433.9,514.7 L434.5,517 L432.9,517.7 L431.3,515.4 L429.8,513.1 L428.2,514.4 L429,517 L430.5,519.3 L428.9,520.1 L426.6,517.8 L425,515.4 L423.3,513.8 L421.6,514.6 L419.6,516.8 L419,519.6 L419.8,523.3 L422.2,527.4 L424.6,531.4 L426.7,534.6 L425.8,536.4 L428.4,538.4 L431.9,540.3 L435.2,542.2 L438.4,543.9 L441.6,546 L444.5,547.6 L445.8,549.4 L443.6,549 L440.8,547.4 L437.6,545.8 L434.4,544.2 L431.1,542.6 L428.7,541 L427.4,541.9 L430.3,543.9 L433.5,546.5 L436.8,548.7 L439.7,551 L441.3,553.6 L439.4,553.6 L436.8,551.3 L433.9,550.3 L431.4,551 L429.8,552.6 L431.9,554.9 L434.4,557.3 L432.7,559.7 L430.3,558.9 L428.7,560.5 L431.1,564.6 L432.7,568.6 L433.5,572.7 L431.9,573.5 L429.5,570.2 L427.4,567 L426.3,569.4 L425.5,572.7 L423.8,574.3 L422.2,571.1 L421.4,567.8 L419.8,569.4 L418.2,571.1 L416.6,567.8 L415.7,563.8 L414.1,559.7 L411.7,556.5 L409.3,554.1 L407.7,550.8 L409.3,548.9 L406,546 L403.6,543.5 L402,541.1 L403.6,539.5 L401.2,537.9 L397.9,535.5 L395.5,533 L394.7,529.8ZM441.6,588 L444.1,586.4 L448.1,587.2 L452.2,586.4 L456.2,587.2 L461.1,586.4 L465.9,586.9 L470.8,585.9 L473.7,585.6 L474,587.6 L470.8,589.2 L466.7,590.1 L462.7,590.8 L458.6,591.8 L454.6,590.5 L449.7,590.8 L445.7,590.5 L442.4,590.1ZM386.6,533 L389,533.5 L391.1,535.5 L389.9,535.8 L387.4,534.6ZM398.8,551.6 L401.2,552.4 L400.4,554.5 L398.8,553.6ZM401.2,557.3 L403.1,558.9 L401.8,559.4ZM458.6,526.6 L462.7,525.4 L465.6,527.4 L464.3,529.8 L461.1,529.3 L459.1,528.7ZM460.2,537.9 L463,538.4 L463.5,541.9 L461.4,542.7 L460.4,540.3ZM471.6,546.8 L474.3,547.1 L473.2,548.7ZM489.9,564.6 L492.1,563 L492.6,566.2 L491,569.4 L489.4,569.8ZM481.8,559.7 L484,560.4 L482.7,561ZM482.9,576.7 L483.9,577 L484.2,579.5 L483.2,579.1ZM440,509.6 L442,509.9 L441.3,511.5ZM447.3,519.3 L450.5,518.9 L451,520.9 L448.4,521.2ZM448.9,549.4 L450.5,549.4 L450.7,550.7 L449.1,550.7ZM453.8,551.8 L455.4,551.8 L455.6,553.1 L453.9,553.1ZM456.2,555 L457.8,555 L458,556.3 L456.4,556.3ZM458.6,559.1 L460.2,559.1 L460.4,560.4 L458.8,560.4ZM455.4,560.7 L457,560.7 L457.2,562 L455.6,562ZM453,563.9 L454.6,563.9 L454.7,565.2 L453.1,565.2ZM449.7,562.3 L451.3,562.3 L451.5,563.6 L449.9,563.6ZM447.3,566.4 L448.9,566.4 L449.1,567.7 L447.5,567.7ZM459.4,565.6 L461.1,565.6 L461.2,566.8 L459.6,566.8ZM464.3,568.8 L465.9,568.8 L466.1,570.1 L464.4,570.1ZM461.9,555.8 L463.5,555.8 L463.6,557.1 L462,557.1ZM466.7,559.1 L468.3,559.1 L468.5,560.4 L466.9,560.4ZM474.8,550.2 L476.4,550.2 L476.6,551.5 L475,551.5ZM477.2,559.1 L478.9,559.1 L479,560.4 L477.4,560.4ZM479.7,562.3 L481.3,562.3 L481.4,563.6 L479.8,563.6ZM432.7,576.9 L434.4,576.9 L434.5,578.2 L432.9,578.2ZM436,582.5 L437.6,582.5 L437.8,583.8 L436.1,583.8ZM445.7,535.1 L447.3,535.1 L447.5,536.4 L445.8,536.4ZM450.2,510 L451.8,510 L452,511.3 L450.4,511.3ZM465.9,550.5 L467.5,550.5 L467.7,551.8 L466.1,551.8ZM400,547.4 L401.7,547.4 L401.8,548.7 L400.2,548.7Z" fill="#3a55b5" stroke="#3a55b5" stroke-width="0.6" stroke-linejoin="round"/>
<path d="M387.5,255.5 L385,253.8 L381.2,251.2 L378.8,246.2 L380,240 L385,237.5 L392.5,234.5 L400,232.5 L407.5,231.8 L412,231.2 L412.5,236.2 L411.2,241.2 L413.8,246.2 L415.5,252.5 L414.5,258 L410,260.8 L406.2,259 L400,257 L395,258 L390,260 L387.5,255.5ZM370.1,246.3 L374,245.1 L375,247.9 L371.9,249ZM367.4,255.4 L370.9,252.1 L376,249.8 L379.5,250.8 L377.5,254.5 L372.9,257.4 L368.8,259.1Z" fill="#17226e" stroke="#17226e" stroke-width="0.6" stroke-linejoin="round"/>
<path d="M387.5,255.5 L390,260 L395,258 L400,257 L406.2,259 L410,260.8 L414.5,258 L417.5,262.5 L421.2,267.5 L423.8,273.8 L424.5,278.8 L421.2,282.5 L417.5,286.2 L415.5,290.5 L412.5,288.8 L408.8,286.2 L402.5,283.8 L395,282.5 L387.5,283.8 L380,283 L372.5,285 L367.5,287.5 L366.2,281.2 L367.5,275 L371.2,268.8 L376.2,263.8 L378,267.5 L380.5,272.5 L385,273.8 L388.8,269.5 L390,263.8 L387.5,255.5Z" fill="#3a55b5" stroke="#3a55b5" stroke-width="0.6" stroke-linejoin="round"/>
<path d="M367.5,287.5 L372.5,285 L380,283 L387.5,283.8 L395,282.5 L402.5,283.8 L408.8,286.2 L412.5,288.8 L415.5,290.5 L413.8,297.5 L409.5,301.2 L411.2,306.2 L410,311.2 L406.2,315 L400,317 L395,315.5 L390,313.8 L386.2,310 L385,306.2 L377.5,305 L371.2,303.8 L370,300 L368.8,293.8 L367.5,287.5Z" fill="#3a55b5" stroke="#3a55b5" stroke-width="0.6" stroke-linejoin="round"/>
<path d="M547.1,566.9 L548.9,564.3 L552.9,562.4 L556.9,562.4 L560.3,559.8 L564,556.3 L567.7,553.7 L567.2,556.3 L564.8,559.8 L563,563.2 L563.5,565.9 L560.3,568 L555.6,569 L550.8,569Z" fill="#e7eaf6" stroke="#e7eaf6" stroke-width="0.6" stroke-linejoin="round"/>
<path d="M328.5,592.6 L330.3,592.9 L330.6,594.4 L329.1,594.1Z" fill="#8f9fe0" stroke="#8f9fe0" stroke-width="0.6" stroke-linejoin="round"/>
<g fill="none" stroke="#2b2b3b" stroke-width="0.95" stroke-linejoin="round" stroke-linecap="round">
<path d="M334.5,99.5 L331.2,103.8 L328.8,108.8 L322.5,111.2 L318.8,116.2 L315,120 L312.5,125 L311.2,132.5 L311.2,138.2 L307.1,144.4 L304,148.5 L302.9,154.7 L301.9,160.9 L300.9,167.1 L299.9,172.2 L301.9,175.3 L300.9,178.4 L296.8,179.4 L292.6,182.5 L290.6,187.6 L290.2,193.8 L290.6,201 L291.6,207.2 L292.6,212.4 L295.1,217.5 L295.7,221.6 L293.7,224.7 L292.2,229.9 L293.7,235 L292.6,240.2 L290.6,244.3 L288.9,249.4 L287.5,253.5"/>
<path d="M334.5,99.5 L338.8,103.8 L345,106.2 L350,110 L353.8,116.2 L355,122.5 L357.5,130 L360,137.5 L361.2,143.8 L362,146.8"/>
<path d="M334.5,99.5 L336.2,97.5 L340,100 L345,103.8 L350,103.8 L353.8,101.2 L357.5,97.5 L358.8,91.2 L360,85 L363.8,81.2 L368.8,80 L372.5,82.5 L376.2,86.2 L377.5,91.2"/>
<path d="M377.5,91.2 L378.8,95 L380,100 L383.8,105 L385.5,111.2 L387.5,118.8 L390.8,126.2 L393.5,132.5 L397.5,138.8 L400,146.2 L403.8,153.8 L407.5,160 L412.5,165 L418.8,171.2 L421.2,177.5 L420,185 L417.5,192.5 L413.8,201.2 L408.8,210 L403.8,216.2 L403.8,216.2"/>
<path d="M128.8,295.5 L128,297.5 L125.5,300 L122.5,302.5 L122,305 L125.5,307.5 L129.5,306.2 L132.5,308 L133.8,311.2"/>
<path d="M264.5,315.5 L267.5,317.5 L273.8,317.5"/>
<path d="M315.9,330.6 L313.8,332.9 L315.6,338.8 L313.6,343.5 L316.8,348.8 L318.6,354.7 L318.4,358.8 L320.9,364.4 L321.8,369.1 L319.1,372.1"/>
<path d="M319.1,372.1 L316.5,374.4 L312.1,376.2 L307.6,377.9 L303.2,379.7 L298.8,381.5 L296.2,384.1 L297.9,387.6 L299.7,391.2 L302.4,394.7 L305,398.2 L307.6,401.8 L310.3,405.3 L312.9,408.5"/>
<path d="M312.9,408.5 L310.3,410.3 L306.8,412.1 L304.1,413.8 L305.9,416.5 L307.6,420 L305.9,422.6 L303.2,421.8 L299.7,422.6 L295.3,423.5 L290.9,424.4 L286.5,424.4 L282.9,425.3 L278.5,426.2 L275,424.4 L272.4,425.3"/>
<path d="M272.4,425.3 L270.9,424.4 L267.9,423.2 L264.4,422.6 L262.6,420.9 L260,421.8 L256.5,422.6 L252.9,423.5"/>
<path d="M252.9,423.5 L252.6,420 L252.9,416.5 L253.8,412.1 L255.6,407.6 L257.4,405 L255.6,402.4 L252.1,400.9 L248.5,399.7 L245,397.9 L242.7,397.1"/>
<path d="M242.5,397 L243,390 L242,386.2"/>
<path d="M242,386.2 L240,381.2 L238.8,377.5"/>
<path d="M238.8,377.5 L240,373 L241.2,368.8 L243.8,365 L246.2,360 L248.8,355 L250,350 L251.2,343.8 L250,338.8 L251.2,335"/>
<path d="M217.5,365 L223.8,365.5 L228.8,364.5 L233.8,366.2 L237.5,368 L237,372.5 L237,373.8 L238.8,377.5"/>
<path d="M206.2,370 L207.5,372.5 L210,375 L213.8,376.2 L216.2,380 L220,381.2 L223.8,383.8 L227.5,385 L230,388.8 L233.8,391.2 L237.5,393.8"/>
<path d="M237.5,393.8 L240,388.8 L238.8,385 L242,386.2"/>
<path d="M237.5,393.8 L240,395.5 L242.5,397"/>
<path d="M148.8,477.5 L153.8,481.2 L158.8,483.8 L163.8,487.5 L170,488.8 L175,490 L180,491.2 L183.8,495 L190,496.2 L196.2,497 L200,497"/>
<path d="M252.1,478.2 L250.3,477.3 L247.6,474.7 L248.5,471.2 L245.9,468.5 L243.2,465.9 L241.5,462.3 L243.2,459.7 L245,456.2 L242.4,453.5 L244.1,450.9 L245.9,448.2"/>
<path d="M245.9,448.2 L245,446.5 L243.2,442.9 L240.6,441.2 L237.9,442.9 L234.9,443.8 L235.3,441.2 L237.1,438.5 L239.7,435.9 L242.4,433.2 L245,430.6 L247.6,427.9 L250.3,426.2 L252.9,423.5"/>
<path d="M71.5,553.8 L72.9,546.5 L75.9,540.6 L80.3,533.2 L78.8,525.9 L83.2,518.5 L85.3,511.2 L87.6,503.8 L92.1,497.9 L97.1,492.1 L93.5,485.3 L86.2,486.2 L78.8,483.2 L74.4,480.3 L70,480.3"/>
<path d="M245.9,448.2 L249.4,447.3 L252.9,446.5 L256.5,445.6 L259.1,442.9 L261.8,444.7 L264.4,448.2 L266.2,450 L267.9,446.5 L269.7,442.9 L272.4,441.2 L275,442.9 L277.6,441.2 L279.9,438.5 L281.2,435.9 L279.9,432.9"/>
<path d="M279.9,432.9 L277.6,431.5 L275,430.6 L273.2,427.9 L272.4,425.3"/>
<path d="M279.9,432.9 L280.3,435 L282.9,434.1 L287.3,433.2 L291.8,432.4 L296.2,432.4 L299.7,433.2 L303.2,435 L307.6,436.8 L312.1,437.6 L316.1,438.5"/>
<path d="M316.1,438.5 L313.8,441.2 L314.3,443.8 L312.9,447.3 L313.8,450.9 L313.2,454.1"/>
<path d="M412,231.2 L412.5,236.2 L411.2,241.2 L413.8,246.2 L415.5,252.5 L414.5,258"/>
<path d="M414.5,258 L410,260.8 L406.2,259 L400,257 L395,258 L390,260 L387.5,255.5"/>
<path d="M367.5,287.5 L372.5,285 L380,283 L387.5,283.8 L395,282.5 L402.5,283.8 L408.8,286.2 L412.5,288.8 L415.5,290.5"/>
<path d="M414.5,258 L417.5,262.5 L421.2,267.5 L423.8,273.8 L424.5,278.8 L421.2,282.5 L417.5,286.2 L415.5,290.5"/>
<path d="M371.2,303.8 L377.5,305 L385,306.2 L386.2,310"/>
<path d="M386.2,310 L390,313.8 L395,315.5"/>
<path d="M395,315.5 L400,317 L406.2,315 L410,311.2 L411.2,306.2 L409.5,301.2 L413.8,297.5 L415.5,290.5"/>
<path d="M360,317.5 L362.5,316.2 L375,315 L386.2,313.8 L386.2,310"/>
<path d="M395,315.5 L396.2,323.8 L398.8,330 L400,336.2 L397.5,342.5 L401.2,347.5 L400.3,347.9 L402.9,352.4 L404.7,357.6 L406.5,362.9 L407.3,368.2 L404.7,373.5 L402.1,377.9 L399.4,382.4 L396.8,386.8 L398,391.2"/>
<path d="M398,391.2 L392.3,391.2 L387.9,390.3 L383.5,389.4 L379.1,391.2 L374.7,392.1 L370.3,391.2 L367.6,388.5 L365,389.4 L361.5,391.2"/>
<path d="M361.5,391.2 L358.8,388.5 L355.3,386.8 L351.8,385 L348.2,382.4 L344.7,379.7 L342.1,380.6 L338.5,382.4 L336.8,379.7 L334.1,377.9 L329.7,376.2 L325.3,375.3 L321.8,373.5 L319.1,372.1"/>
<path d="M361.5,391.2 L358.8,393.8 L355.3,396.5 L351.8,399.1 L348.2,401.8 L346.1,404.9"/>
<path d="M346.1,404.9 L342.9,403.5 L339.4,404.4 L335,403.5 L331.5,401.8 L327.9,402.6 L324.4,404.4 L321.8,407.1 L318.2,407.9 L314.7,407.9 L312.9,408.5"/>
<path d="M346.1,404.9 L346.8,407.9 L346.5,410.6"/>
<path d="M346.5,410.6 L347.3,414.1 L345.6,417.6 L344.7,421.2 L342.6,424.7 L341.2,428.2 L340.3,431.8 L339.9,432.6"/>
<path d="M339.9,432.6 L336.8,434.4 L333.2,436.2 L328.8,437.1 L324.4,437.4 L320,437.1 L316.1,438.3"/>
<path d="M346.5,410.6 L349.1,413.2 L351.8,414.3 L356.2,413.4 L360.6,411.5 L365,409.7 L369.4,407.9 L373.8,406.2 L378.2,403.5 L382.6,402.6 L387.1,400.9 L391.5,400 L395.3,400.9"/>
<path d="M395.3,400.9 L395.9,398.2 L397.6,394.7 L398,391.2"/>
<path d="M395.3,400.9 L399.4,402.6 L402.9,404.4"/>
<path d="M402.9,404.4 L400.3,406.2 L398.5,410.6 L396.8,415.9 L395,421.2 L393.2,426.5 L391.5,430.9 L389.7,435.3"/>
<path d="M389.7,435.3 L386.2,436.2 L381.8,437.9 L377.3,438.8 L371.5,440.2"/>
<path d="M371.5,440.2 L370.3,441.5 L365.9,443.2 L359.7,445 L353.5,444.1 L348.2,441.5 L343.8,437.9 L341.2,435.3"/>
<path d="M341.2,435.3 L339.9,432.6"/>
<path d="M341.2,435.3 L339,439.9 L336.8,442.8 L334.6,445.7 L333.1,448.7 L330.1,451.6 L326.5,453.1 L322.1,454.6 L317.6,454.1 L313.2,454.1"/>
<path d="M371.5,440.2 L369.1,443.5 L370.6,447.2 L372.8,450.1 L374.3,453.1 L373.5,455.3"/>
<path d="M373.5,455.3 L372.1,454.6 L367.6,455.3 L361.8,455.3 L355.9,456 L350,455.3 L344.1,456 L339.7,455.3 L337.5,457.5 L337.1,458.5 L337.5,461.9 L339.4,465.6 L341.9,469.3 L344.9,472.9 L347.8,476.6 L350.7,479.6 L353.7,482.5 L356.6,485.4 L358.8,487.6 L361.8,489.9 L365.4,492.1 L367.9,493.8"/>
<path d="M402.9,404.4 L407.5,406.2 L415,405 L422.5,406.2 L428.8,403.8 L435,398.8 L440,396.2"/>
<path d="M440,396.2 L445,398.8 L450,403.8 L455,410 L458.8,416.2 L462.5,423.8 L466.2,430"/>
<path d="M466.2,430 L472.5,431.2 L478.8,430"/>
<path d="M473.8,457.5 L466.2,456.2 L458.8,458.8 L451.2,461.2 L443.8,465 L436.2,466.2 L428.8,467 L421.2,466.2 L415,465"/>
<path d="M415,465 L411.2,460 L405,457.5 L400,453.8 L395.5,450 L393.8,445 L388.8,440 L389.7,435.3"/>
<path d="M472.5,482.5 L468.8,483.8 L463.8,486.2 L457,495.8"/>
<path d="M457,495.8 L454.6,497.4 L451.3,499 L446.5,499.9 L441.6,500.7 L436.8,499.9 L431.9,499.5 L427.1,500.7 L423,502.3 L419.8,501.5"/>
<path d="M420,502.3 L420,499.7 L417.3,494.4 L412.1,491.8 L411.2,487.3 L412.9,482.9 L414.7,478.5 L412.1,474.1 L410.3,469.7 L409.4,465.3 L407.6,462.6 L408.5,459.1 L415,465"/>
<path d="M394.7,529.8 L395.5,525.7 L397.9,520.9 L400.4,516 L402.8,512.8 L406.8,510.4 L410.9,507.9 L414.9,505.5 L418.2,503.1 L419.8,501.5"/>
<path d="M457,495.8 L457.8,498.2 L457.5,500.7 L457,502.3"/>
</g>
</g>
<rect x="0" y="597" width="680" height="83" fill="#fff"/>
<rect x="552" y="134" width="62.5" height="66.5" fill="#fff" stroke="#ececec" stroke-width="1"/>
<path d="M562,151.2 L566.2,150 L571.2,150.8 L575.5,152.5 L577.5,155 L575,157.5 L570,158 L565.5,157 L563,154.5ZM578,159.5 L580,159 L581.5,161 L580,162.5ZM580,163.8 L585,165 L591.2,164.5 L596.2,167.5 L600.5,171.2 L603.8,175 L603,179.5 L600,182 L595,181.2 L590,180 L585,178 L581.2,175 L578.8,170 L578,166.2Z" fill="#8f9fe0"/>
<g fill="#2b2b3b"><circle cx="302.2" cy="477.5" r="0.8"/><circle cx="304" cy="507.4" r="0.7"/><circle cx="183.6" cy="492.6" r="0.8"/></g>
<g font-family="Liberation Sans, sans-serif" font-weight="700" font-size="10.8" text-anchor="middle" fill="#fff" stroke="#fff" stroke-width="3.4" stroke-linejoin="round">
<text x="386.9" y="201.40">1.9</text>
<text x="395.6" y="250.80">5.2</text>
<text x="405.5" y="279.20">3.9</text>
<text x="392.4" y="301.80">3.2</text>
<text x="317" y="258.00">2.9</text>
<text x="276.2" y="307.80">1.8</text>
<text x="118" y="338.30">1.6</text>
<text x="236" y="363.20">2.8</text>
<text x="224.2" y="382.90">2.9</text>
<text x="249.4" y="399.10">2.4</text>
<text x="279.4" y="378.70">2.0</text>
<text x="362" y="364.00">3.4</text>
<text x="328" y="397.50">2.8</text>
<text x="372" y="405.70">4.6</text>
<text x="322.9" y="426.10">3.2</text>
<text x="369" y="434.70">4.6</text>
<text x="426.8" y="444.00">5.8</text>
<text x="320.6" y="451.30">2.5</text>
<text x="320.6" y="470.90">4.4</text>
<text x="202.2" y="436.10">0.9</text>
<text x="300.2" y="500.20">1.8</text>
<text x="441.5" y="484.30">3.1</text>
<text x="67" y="526.00">2.1</text>
<text x="126.5" y="524.50">2.3</text>
<text x="416" y="557.70">3.6</text>
<text x="350.6" y="593.50">2.5</text>
<text x="557" y="582.60">0.5</text>
</g>
<g font-family="Liberation Sans, sans-serif" font-weight="700" font-size="10.8" text-anchor="middle" fill="#272727" stroke="#272727" stroke-width="0.3">
<text x="386.9" y="201.40">1.9</text>
<text x="395.6" y="250.80">5.2</text>
<text x="405.5" y="279.20">3.9</text>
<text x="392.4" y="301.80">3.2</text>
<text x="317" y="258.00">2.9</text>
<text x="276.2" y="307.80">1.8</text>
<text x="118" y="338.30">1.6</text>
<text x="236" y="363.20">2.8</text>
<text x="224.2" y="382.90">2.9</text>
<text x="249.4" y="399.10">2.4</text>
<text x="279.4" y="378.70">2.0</text>
<text x="362" y="364.00">3.4</text>
<text x="328" y="397.50">2.8</text>
<text x="372" y="405.70">4.6</text>
<text x="322.9" y="426.10">3.2</text>
<text x="369" y="434.70">4.6</text>
<text x="426.8" y="444.00">5.8</text>
<text x="320.6" y="451.30">2.5</text>
<text x="320.6" y="470.90">4.4</text>
<text x="202.2" y="436.10">0.9</text>
<text x="300.2" y="500.20">1.8</text>
<text x="441.5" y="484.30">3.1</text>
<text x="67" y="526.00">2.1</text>
<text x="126.5" y="524.50">2.3</text>
<text x="416" y="557.70">3.6</text>
<text x="350.6" y="593.50">2.5</text>
<text x="557" y="582.60">0.5</text>
</g>
</svg>
<div class="t" style="left:3.6px;top:14.3px;font-size:18.85px;font-weight:700;color:#383838;">Annual inflation rates in June 2025</div>
<div class="t" style="left:3.8px;top:40.2px;font-size:16.5px;color:#383838;">(%)</div>
<div class="t" style="left:8.4px;top:152.8px;font-size:12.85px;color:#333;">EU = 2.3%, euro area = 2.0%</div>
<div class="sw" style="top:169.80px;background:#17226e;"></div>
<div class="t" style="left:36.5px;top:168.90px;font-size:12.2px;color:#333;">≥ 4.2</div>
<div class="sw" style="top:183.25px;background:#3a55b5;"></div>
<div class="t" style="left:36.5px;top:182.35px;font-size:12.2px;color:#333;">3.2 – &lt; 4.2</div>
<div class="sw" style="top:196.70px;background:#6980d8;"></div>
<div class="t" style="left:36.5px;top:195.80px;font-size:12.2px;color:#333;">2.8 – &lt; 3.2</div>
<div class="sw" style="top:210.15px;background:#8f9fe0;"></div>
<div class="t" style="left:36.5px;top:209.25px;font-size:12.2px;color:#333;">2.4 – &lt; 2.8</div>
<div class="sw" style="top:223.60px;background:#bfc8ea;"></div>
<div class="t" style="left:36.5px;top:222.70px;font-size:12.2px;color:#333;">1.8 – &lt; 2.4</div>
<div class="sw" style="top:237.05px;background:#e7eaf6;"></div>
<div class="t" style="left:36.5px;top:236.15px;font-size:12.2px;color:#333;">&lt; 1.8</div>
<div class="t" style="left:553px;top:137px;font-size:7.2px;color:#333;">Malta</div>
<div class="t" style="left:564px;top:186.2px;font-size:11.5px;font-weight:700;color:#222;">2.5</div>
<div class="t" style="left:8px;top:599.2px;font-size:17.8px;font-weight:400;color:#6a6d78;letter-spacing:0.75px;-webkit-text-stroke:0.45px #6a6d78;">eurostat</div>
<svg style="position:absolute;left:80.5px;top:603.5px" width="17" height="11.2" viewBox="0 0 18 12.5" preserveAspectRatio="none"><rect width="18" height="12.5" fill="#0e47a1"/><circle cx="9" cy="6.25" r="3.6" fill="none" stroke="#ffd617" stroke-width="1" stroke-dasharray="0.9 0.985"/></svg>
<div class="t" style="left:8px;top:631.3px;font-size:9.5px;color:#333;">Source dataset: prc_hicp_manr</div>
<div class="t" style="right:7.6px;top:618.4px;font-size:9.4px;color:#333;text-align:right;line-height:11.8px;">Administrative boundaries: © EuroGeographics © OpenStreetMap<br>Cartography: Eurostat – IMAGE, 07/2025</div>
<svg style="position:absolute;left:580px;top:555px" width="100" height="65" viewBox="580 555 100 65"><defs><linearGradient id="yg" gradientUnits="userSpaceOnUse" x1="626" y1="580" x2="598" y2="612"><stop offset="0" stop-color="#ffd21f"/><stop offset="0.45" stop-color="#ffd21f"/><stop offset="1" stop-color="#ffd21f" stop-opacity="0"/></linearGradient><linearGradient id="gg" gradientUnits="userSpaceOnUse" x1="628" y1="584" x2="642" y2="598"><stop offset="0" stop-color="#f4f4f4"/><stop offset="1" stop-color="#9aa0a6"/></linearGradient></defs><path d="M616.9,580.5 L631.2,580.5 L607.2,611.5 L592.7,611.5Z" fill="url(#yg)"/><path d="M625.8,588.2 L631.2,580.8 L646.1,597.8 L633.9,597.8Z" fill="url(#gg)"/><path d="M663,563.1 L676.5,563.1 L646.9,597.8 L640.4,590.2Z" fill="#0d3fb8"/><path d="M672.5,563.1 L676.5,563.1 L646.9,597.8 L645.2,595.6Z" fill="#2f63de"/></svg>
</body></html>
